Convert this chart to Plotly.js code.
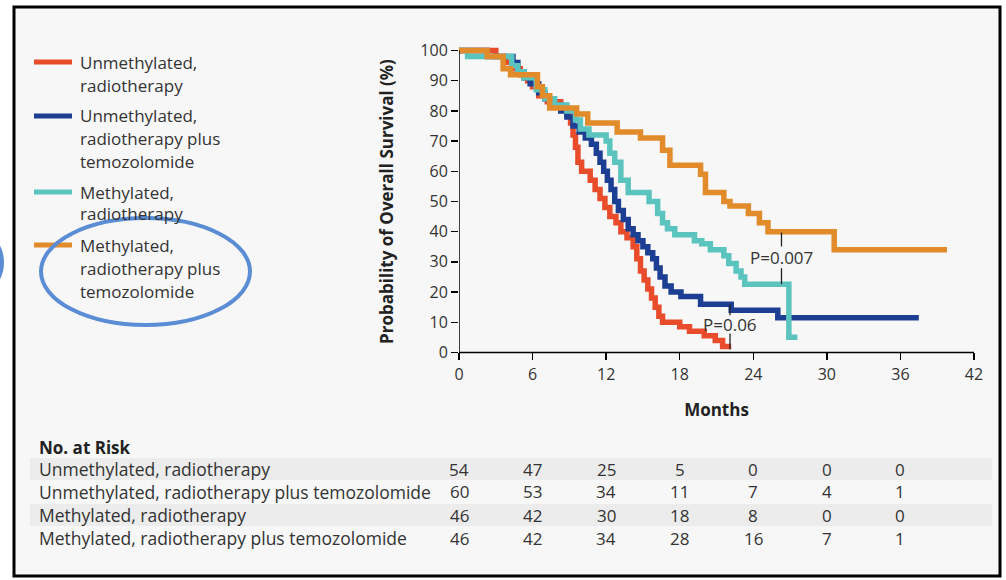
<!DOCTYPE html>
<html>
<head>
<meta charset="utf-8">
<script src="https://cdn.plot.ly/plotly-3.0.1.min.js"></script>
<style>
  html, body { margin: 0; padding: 0; background: #ffffff; }
  #chart { width: 1006px; height: 580px; }
</style>
</head>
<body>
<div id="chart"></div>
<script>
// ---------------- DATA ----------------
const seriesNames = [
  "Unmethylated, radiotherapy",
  "Unmethylated, radiotherapy plus temozolomide",
  "Methylated, radiotherapy",
  "Methylated, radiotherapy plus temozolomide"
];
const legendLabels = [
  ["Unmethylated,", "radiotherapy"],
  ["Unmethylated,", "radiotherapy plus", "temozolomide"],
  ["Methylated,", "radiotherapy"],
  ["Methylated,", "radiotherapy plus", "temozolomide"]
];
const seriesColors = ["#e84c2b", "#1d3f93", "#5cc4bf", "#e18b2b"];

const umRtMonths = [0, 3.0, 3.8, 4.5, 5.0, 5.6, 6.0, 6.5, 7.2, 8.3, 8.8, 9.1, 9.3, 9.5, 9.7, 10.0, 10.7, 11.1, 11.5, 11.9, 12.3, 12.8, 13.2, 13.7, 14.2, 14.5, 14.8, 15.1, 15.4, 15.7, 16.0, 16.3, 16.6, 18.0, 18.8, 20.0, 20.9, 21.5, 22.2];
const umRtSurv   = [100, 98, 96, 94, 92, 90, 88, 85, 83, 81, 79, 76, 72, 68, 63, 60, 57, 54, 51, 48, 45, 43, 40, 38, 35, 31, 27, 24, 21, 18, 15, 12, 10, 8.5, 7, 5.5, 4, 2, 2];

const umTmzMonths = [0, 2.3, 4.4, 4.8, 5.3, 5.8, 6.5, 7.0, 7.5, 8.3, 8.8, 9.3, 9.8, 10.3, 10.8, 11.2, 11.5, 11.8, 12.1, 12.4, 12.7, 13.0, 13.4, 13.8, 14.2, 14.6, 15.0, 15.4, 15.8, 16.1, 16.4, 16.8, 17.3, 18.1, 19.7, 22.2, 26.0, 37.5];
const umTmzSurv   = [100, 98, 96, 93, 91, 89, 86, 84, 82, 80, 78, 75, 73, 71, 69, 66, 63, 60, 57, 54, 50, 47, 44, 41, 39, 37, 35, 33, 31, 28, 25, 22, 20, 18.5, 16, 14, 11.5, 11.5];

const mRtMonths = [0, 0.7, 4.3, 4.8, 5.3, 6.3, 7.0, 7.8, 8.8, 9.5, 9.9, 10.6, 12.0, 12.3, 12.7, 13.2, 13.8, 15.5, 16.2, 16.6, 17.0, 17.6, 19.2, 19.8, 20.5, 21.6, 22.0, 22.6, 23.0, 23.3, 26.9, 27.6];
const mRtSurv   = [100, 98, 95, 93, 91, 87, 84, 82, 80, 77, 74, 72, 70, 66, 63, 57, 53, 50, 46, 43, 41, 39, 37, 36, 34, 32, 29.5, 27, 25, 22.6, 5, 5];

const mTmzMonths = [0, 2.3, 3.6, 4.2, 6.4, 6.8, 7.4, 9.6, 10.5, 12.9, 14.8, 16.6, 17.2, 19.7, 20.1, 21.6, 22.1, 23.6, 24.5, 25.2, 30.6, 39.8];
const mTmzSurv   = [100, 98, 94, 92, 88, 85, 81, 79, 76, 73, 71, 67, 62, 59, 53, 50, 48.5, 46, 43, 40, 34, 34];

const xTicks = [0, 6, 12, 18, 24, 30, 36, 42];
const yTicks = [0, 10, 20, 30, 40, 50, 60, 70, 80, 90, 100];
const riskTimes = [0, 6, 12, 18, 24, 30, 36];
const riskUmRt  = [54, 47, 25, 5, 0, 0, 0];
const riskUmTmz = [60, 53, 34, 11, 7, 4, 1];
const riskMRt   = [46, 42, 30, 18, 8, 0, 0];
const riskMTmz  = [46, 42, 34, 28, 16, 7, 1];

const pLabels = ["P=0.06", "P=0.007"];
const pTimes = [22.1, 26.3];
const pLabelY = [9.3, 31.5];
const pLineFrom = [16, 39.7];
const pLineTo = [1, 22.6];
const pGapHalf = [3.0, 3.6];

// ---------------- LAYOUT HELPERS ----------------
const W = 1006, H = 580;
const ML = 459, MR = 32, MT = 46, MB = 223;
const PW = W - ML - MR, PH = H - MT - MB;
const px2x = px => (px - ML) / PW;
const py2y = py => (H - MB - py) / PH;
const FONT = "Open Sans, Noto Sans, sans-serif";
const BG = "#f7f7f7";

const monthsList = [umRtMonths, umTmzMonths, mRtMonths, mTmzMonths];
const survList = [umRtSurv, umTmzSurv, mRtSurv, mTmzSurv];
const riskList = [riskUmRt, riskUmTmz, riskMRt, riskMTmz];

const traces = seriesNames.map((name, i) => ({
  type: "scatter",
  mode: "lines",
  name: name,
  x: monthsList[i],
  y: survList[i],
  line: { color: seriesColors[i], width: 5.5, shape: "hv" },
  showlegend: false,
  hoverinfo: "x+y+name"
}));

const shapes = [];
const annotations = [];

// frame / background panel
shapes.push({ type: "rect", xref: "paper", yref: "paper", layer: "below",
  x0: px2x(14), x1: px2x(1000), y0: py2y(576), y1: py2y(7),
  fillcolor: BG, line: { color: "#000000", width: 3 } });

// risk table stripes (rows 1 and 3)
[469, 515].forEach(cy => {
  shapes.push({ type: "rect", xref: "paper", yref: "paper", layer: "below",
    x0: px2x(30), x1: px2x(992), y0: py2y(cy + 11), y1: py2y(cy - 11),
    fillcolor: "#ececec", line: { width: 0 } });
});

// axis lines
shapes.push({ type: "line", xref: "x", yref: "y", x0: 0, x1: 42, y0: 0, y1: 0,
  line: { color: "#000", width: 1.5 } });
shapes.push({ type: "line", xref: "x", yref: "y", x0: 0, x1: 0, y0: 0, y1: 100,
  line: { color: "#000", width: 1.5 } });

// P-value markers (tick line broken around the label)
pLabels.forEach((lab, i) => {
  shapes.push({ type: "line", xref: "x", yref: "y", x0: pTimes[i], x1: pTimes[i],
    y0: pLineFrom[i], y1: pLabelY[i] + pGapHalf[i], line: { color: "#222", width: 1.3 } });
  shapes.push({ type: "line", xref: "x", yref: "y", x0: pTimes[i], x1: pTimes[i],
    y0: pLabelY[i] - pGapHalf[i], y1: pLineTo[i], line: { color: "#222", width: 1.3 } });
  annotations.push({ xref: "x", yref: "y", x: pTimes[i], y: pLabelY[i], text: lab,
    showarrow: false, borderpad: 0,
    font: { family: FONT, size: 17, color: "#333" } });
});

// custom legend
const legendRows = [[62, 85], [116, 138, 161], [192, 214], [245, 268, 291]];
legendRows.forEach((rows, i) => {
  shapes.push({ type: "line", xref: "paper", yref: "paper",
    x0: px2x(34), x1: px2x(72), y0: py2y(rows[0]), y1: py2y(rows[0]),
    line: { color: seriesColors[i], width: 5 } });
  legendLabels[i].forEach((txt, j) => {
    annotations.push({ xref: "paper", yref: "paper", x: px2x(78), y: py2y(rows[j]),
      xanchor: "left", yanchor: "middle", showarrow: false, text: txt,
      font: { family: FONT, size: 17, color: "#333" } });
  });
});

// highlight ellipse and partial arc
shapes.push({ type: "circle", xref: "paper", yref: "paper",
  x0: px2x(41), x1: px2x(250), y0: py2y(325), y1: py2y(218),
  line: { color: "#5b8dd5", width: 4 } });
shapes.push({ type: "circle", xref: "paper", yref: "paper",
  x0: px2x(-80), x1: px2x(2), y0: py2y(300), y1: py2y(225),
  line: { color: "#5b8dd5", width: 4 } });

// risk table
annotations.push({ xref: "paper", yref: "paper", x: px2x(37), y: py2y(447),
  xanchor: "left", yanchor: "middle", showarrow: false, text: "<b>No. at Risk</b>",
  font: { family: FONT, size: 17, color: "#222" } });
const riskRowsY = [469, 492, 515, 538];
seriesNames.forEach((name, i) => {
  annotations.push({ xref: "paper", yref: "paper", x: px2x(37), y: py2y(riskRowsY[i]),
    xanchor: "left", yanchor: "middle", showarrow: false, text: name,
    font: { family: FONT, size: 17.5, color: "#333" } });
  riskTimes.forEach((t, k) => {
    annotations.push({ xref: "x", yref: "paper", x: t, y: py2y(riskRowsY[i]),
      xanchor: "center", yanchor: "middle", showarrow: false, text: String(riskList[i][k]),
      font: { family: FONT, size: 17, color: "#333" } });
  });
});

const layout = {
  width: W, height: H,
  margin: { l: ML, r: MR, t: MT, b: MB, pad: 0 },
  paper_bgcolor: "#ffffff",
  plot_bgcolor: "rgba(0,0,0,0)",
  showlegend: false,
  xaxis: {
    range: [0, 42], tickvals: xTicks, ticktext: xTicks.map(String),
    anchor: "free", position: 1.5 / 103,
    showline: false, showgrid: false, zeroline: false,
    ticks: "outside", ticklen: 7, tickwidth: 1.5, tickcolor: "#000",
    tickfont: { family: FONT, size: 16, color: "#333" },
    title: { text: "<b>Months</b>", standoff: 20, font: { family: FONT, size: 17, color: "#222" } },
    fixedrange: true
  },
  yaxis: {
    range: [-1.5, 101.5], domain: [0, 1], tickvals: yTicks, ticktext: yTicks.map(String),
    showline: false, showgrid: false, zeroline: false,
    ticks: "outside", ticklen: 7, tickwidth: 1.5, tickcolor: "#000",
    tickfont: { family: FONT, size: 16, color: "#333" },
    title: { text: "<b>Probability of Overall Survival (%)</b>", standoff: 22,
      font: { family: FONT, size: 17, color: "#222" } },
    fixedrange: true
  },
  shapes: shapes,
  annotations: annotations
};

Plotly.newPlot("chart", traces, layout, { displayModeBar: false, staticPlot: true });
</script>
</body>
</html>
